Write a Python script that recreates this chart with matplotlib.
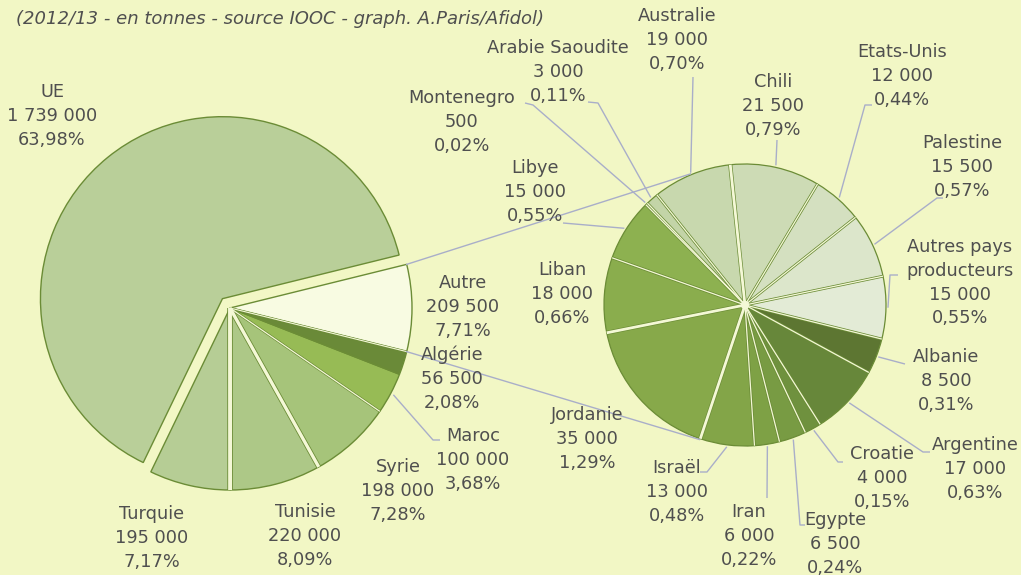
import math
import matplotlib
matplotlib.use("Agg")
import matplotlib.pyplot as plt

W, H = 1021, 575

# ---------------- data ----------------
main_labels = ["Autre", "Algérie", "Maroc", "Syrie", "Tunisie", "Turquie", "UE"]
main_values = [209500, 56500, 100000, 198000, 220000, 195000, 1739000]

sub_labels = ["Chili", "Etats-Unis", "Palestine", "Autres pays\nproducteurs", "Albanie",
              "Argentine", "Croatie", "Egypte", "Iran", "Israël", "Jordanie", "Liban",
              "Libye", "Montenegro", "Arabie Saoudite", "Australie"]
sub_values = [21500, 12000, 15500, 15000, 8500, 17000, 4000, 6500, 6000, 13000,
              35000, 18000, 15000, 500, 3000, 19000]

subtitle = "(2012/13 - en tonnes - source IOOC - graph. A.Paris/Afidol)"

# ---------------- style ----------------
BG = "#f2f7c5"
PALE = "#f4f8d6"
EDGE = "#6b8c36"
TXT = "#4f4f4f"
LEAD = "#a9aec9"
FS = 12.8
LS = 23.8  # line spacing in px

main_colors = ["#f8fbe2", "#6a8a38", "#97bb55", "#a6c47a", "#adc887", "#b6cd95", "#b9cf99"]
main_explode = [0, 0, 0, 0, 0, 0, 12]
# boundary styles (green width, pale width) after each slice of the main pie (non-UE)
main_gaps = [(1.6, 0.8), (1.0, 0.0), (1.8, 0.9), (3.6, 2.4), (4.0, 2.8)]
sub_colors = ["#cddbb5", "#d4e0c0", "#dce6cb", "#e3ebd6", "#5d7632", "#67873a", "#6f913e",
              "#789b43", "#7ea145", "#83a548", "#87a94a", "#8aad4d", "#8db150", "#a9c47f",
              "#c3d4a7", "#c8d8ae"]

total = sum(main_values)
sub_total = sum(sub_values)


def fmt_num(v):
    return f"{v:,}".replace(",", " ")


def fmt_pct(v):
    return f"{100 * v / total:.2f}".replace(".", ",") + "%"


def Y(y):
    return H - y


fig = plt.figure(figsize=(W / 100, H / 100), dpi=100)
fig.patch.set_facecolor(BG)
ax = fig.add_axes([0, 0, 1, 1])
ax.set_facecolor(BG)


def boundary(cx, cy, r, ang, gw, pw):
    a = math.radians(ang)
    xs = [cx, cx + r * math.cos(a)]
    ys = [Y(cy), Y(cy) + r * math.sin(a)]
    if gw > 0:
        ax.plot(xs, ys, color=EDGE, lw=gw, zorder=2, solid_capstyle="butt")
    if pw > 0:
        ax.plot(xs, ys, color=PALE, lw=pw, zorder=3, solid_capstyle="butt")


# main pie
mcx, mcy, mr = 230, 308, 182
mstart = 360 * main_values[0] / total / 2
ax.pie(main_values, colors=main_colors, explode=main_explode, center=(mcx, Y(mcy)),
       radius=mr, startangle=mstart, counterclock=False, frame=True,
       wedgeprops=dict(edgecolor=EDGE, linewidth=1.0))
cum = 0
for v, (gw, pw) in zip(main_values[:-2], main_gaps):
    cum += v
    boundary(mcx, mcy, mr, mstart - cum / total * 360, gw, pw)

# second pie
scx, scy, sr = 745, 305, 141
sstart = 96
ax.pie(sub_values, colors=sub_colors, center=(scx, Y(scy)),
       radius=sr, startangle=sstart, counterclock=False, frame=True,
       wedgeprops=dict(edgecolor=EDGE, linewidth=0.9))
wide = {0, 10, 11}  # boundaries drawn as wide pale gaps (before Chili, Jordanie, Liban)
cum = 0
for i, v in enumerate(sub_values):
    ang = sstart - cum / sub_total * 360
    if i in wide:
        boundary(scx, scy, sr, ang, 3.0, 2.0)
    else:
        boundary(scx, scy, sr, ang, 2.0, 0.9)
    cum += v
ax.add_patch(plt.Circle((scx, Y(scy)), 3.5, color=PALE, zorder=4))

ax.set_xlim(0, W)
ax.set_ylim(0, H)
ax.set_axis_off()

# connectors between pies
for sgn, ang2 in ((1, 112.6), (-1, -108.7)):
    a1 = math.radians(sgn * mstart)
    x1 = mcx + mr * math.cos(a1)
    y1 = Y(mcy) + mr * math.sin(a1)
    a2 = math.radians(ang2)
    x2 = scx + (sr + 1) * math.cos(a2)
    y2 = Y(scy) + (sr + 1) * math.sin(a2)
    ax.plot([x1, x2], [y1, y2], color=LEAD, lw=1.0, zorder=5)


def mid_angles(values, start, tot):
    out = []
    c = 0
    for v in values:
        out.append(start - (c + v / 2) / tot * 360)
        c += v
    return out


main_mid = mid_angles(main_values, mstart, total)
sub_mid = mid_angles(sub_values, sstart, sub_total)

# label layout (x, first line y) in image px
main_pos = {"UE": (52, 92), "Turquie": (152, 514), "Tunisie": (305, 512), "Syrie": (398, 467),
            "Maroc": (473, 436), "Algérie": (452, 355), "Autre": (463, 283)}
sub_pos = {"Chili": (773, 82), "Etats-Unis": (902, 52), "Palestine": (962, 143),
           "Autres pays\nproducteurs": (960, 247), "Albanie": (946, 357),
           "Argentine": (975, 445), "Croatie": (882, 454), "Egypte": (835, 520),
           "Iran": (749, 512), "Israël": (677, 468), "Jordanie": (587, 415),
           "Liban": (562, 270), "Libye": (535, 168), "Montenegro": (462, 98),
           "Arabie Saoudite": (558, 48), "Australie": (677, 16)}

main_lead = {"Maroc": [(440, 440), (433, 440)]}
sub_lead = {"Chili": [(777, 140)], "Etats-Unis": [(872, 105), (865, 105)],
            "Palestine": [(943, 198), (937, 198)],
            "Autres pays\nproducteurs": [(898, 275), (890, 275)],
            "Albanie": [(905, 364)], "Argentine": [(930, 452), (923, 452)],
            "Croatie": [(843, 462), (838, 462)], "Egypte": [(805, 525), (800, 525)],
            "Iran": [(767, 498)], "Israël": [(700, 472), (707, 472)],
            "Libye": [(563, 223)], "Montenegro": [(525, 103), (533, 105)],
            "Arabie Saoudite": [(588, 102), (598, 103)], "Australie": [(693, 77)]}


def draw_label(name, value, pos):
    x, y0 = pos
    lines = name.split("\n") + [fmt_num(value), fmt_pct(value)]
    for i, s in enumerate(lines):
        ax.text(x, Y(y0 + i * LS), s, ha="center", va="center", fontsize=FS,
                color=TXT, family="DejaVu Sans", zorder=6)


def draw_leader(pts, cx, cy, r, ang):
    a = math.radians(ang)
    ex_pt = (cx + r * math.cos(a), Y(cy) + r * math.sin(a))
    xs = [p[0] for p in pts] + [ex_pt[0]]
    ys = [Y(p[1]) for p in pts] + [ex_pt[1]]
    ax.plot(xs, ys, color=LEAD, lw=1.0, zorder=5, solid_capstyle="butt")


for name, v, ang in zip(main_labels, main_values, main_mid):
    draw_label(name, v, main_pos[name])
    if name in main_lead:
        draw_leader(main_lead[name], mcx, mcy, mr + 3, ang)

for name, v, ang in zip(sub_labels, sub_values, sub_mid):
    draw_label(name, v, sub_pos[name])
    if name in sub_lead:
        draw_leader(sub_lead[name], scx, scy, sr + 2, ang)

ax.text(16, Y(19), subtitle, ha="left", va="center", fontsize=13, style="italic",
        color=TXT, family="DejaVu Sans", zorder=6)

fig.savefig("out.png", dpi=100, facecolor=BG)
